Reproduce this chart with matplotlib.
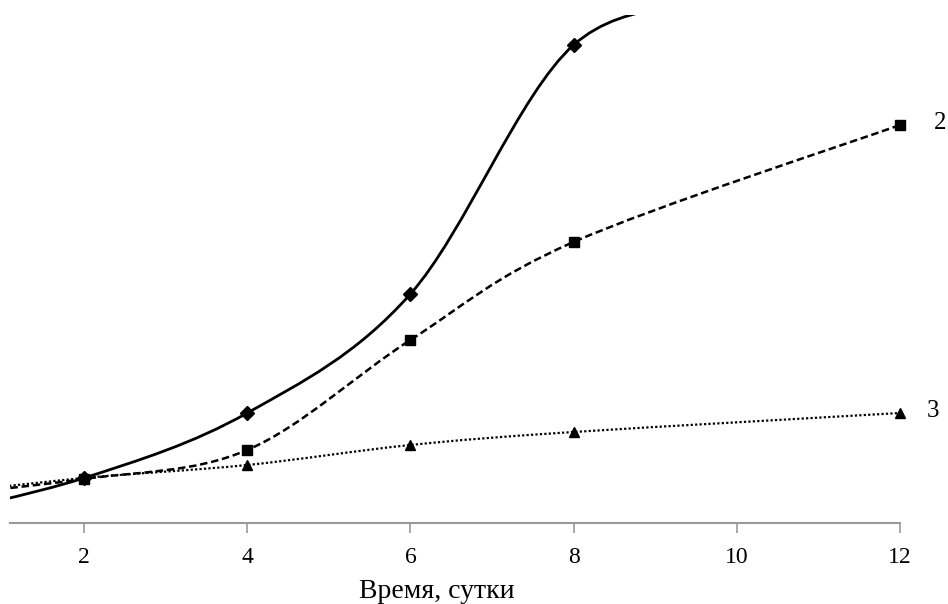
import numpy as np
import matplotlib
matplotlib.use('Agg')
import matplotlib.pyplot as plt
from matplotlib.path import Path
from matplotlib.patches import PathPatch

# data (days vs. arbitrary units)
days1 = [0, 2, 4, 6, 8, 10]
vals1 = [0.5, 4.5, 11.0, 22.9, 47.8, 52.0]
days2 = [0, 2, 4, 6, 8, 12]
vals2 = [2.6, 4.4, 7.3, 18.3, 28.1, 39.8]
days3 = [0, 2, 4, 6, 8, 12]
vals3 = [2.7, 4.5, 5.8, 7.8, 9.1, 11.0]
xticks = [2, 4, 6, 8, 10, 12]

plt.rcParams['font.family'] = ['Liberation Serif', 'DejaVu Serif']


def smoothPath(ax, xs, ys):
    # Excel-like smoothed line: cubic bezier segments, computed in display space
    pts = ax.transData.transform(np.column_stack([xs, ys]))
    n = len(pts)
    verts = [pts[0]]
    codes = [Path.MOVETO]
    for i in range(n - 1):
        p0 = pts[i - 1] if i > 0 else pts[i]
        p1 = pts[i]
        p2 = pts[i + 1]
        p3 = pts[i + 2] if i + 2 < n else pts[i + 1]
        c1 = p1 + (p2 - p0) / 6.0
        c2 = p2 - (p3 - p1) / 6.0
        verts += [c1, c2, p2]
        codes += [Path.CURVE4] * 3
    return Path(verts, codes)


fig = plt.figure(figsize=(9.48, 6.04), dpi=100)
ax = fig.add_axes([10 / 948, 81 / 604, 890 / 948, 508 / 604])
ax.set_xlim(1.093, 12)
ax.set_ylim(0, 50.8)

# curve 1 runs off the top, so its markers stay clipped
styles = [(days1, vals1, '-', 'D', 2.0, 7, True),
          (days2, vals2, (0, (3, 1.5)), 's', 1.8, 7.5, False),
          (days3, vals3, (0, (1, 1)), '^', 1.6, 7.5, False)]
for xs, ys, ls, mk, lw, ms, clip in styles:
    path = smoothPath(ax, xs, ys)
    patch = PathPatch(path, transform=None, fill=False, edgecolor='k',
                      linewidth=lw, linestyle=ls, clip_on=True)
    ax.add_patch(patch)
    patch.set_clip_box(ax.bbox)
    ax.plot(xs, ys, linestyle='none', marker=mk, color='k', markersize=ms, clip_on=clip)

ax.text(12.42, vals2[-1] + 0.2, '2', fontsize=18, va='center', ha='left')
ax.text(12.33, vals3[-1] + 0.2, '3', fontsize=18, va='center', ha='left')

for s in ['top', 'right', 'left']:
    ax.spines[s].set_visible(False)
ax.spines['bottom'].set_color('#9a9a9a')
ax.spines['bottom'].set_linewidth(1.5)
ax.set_yticks([])
ax.set_xticks(xticks)
ax.set_xticklabels([str(t) for t in xticks])
ax.tick_params(axis='x', direction='out', length=7, width=1.2, color='#9a9a9a',
               labelsize=17, pad=10)
fig.text(437 / 948, 1 - 598 / 604, 'Время, сутки', fontsize=20,
         ha='center', va='baseline')

fig.savefig('out.png', dpi=100)
